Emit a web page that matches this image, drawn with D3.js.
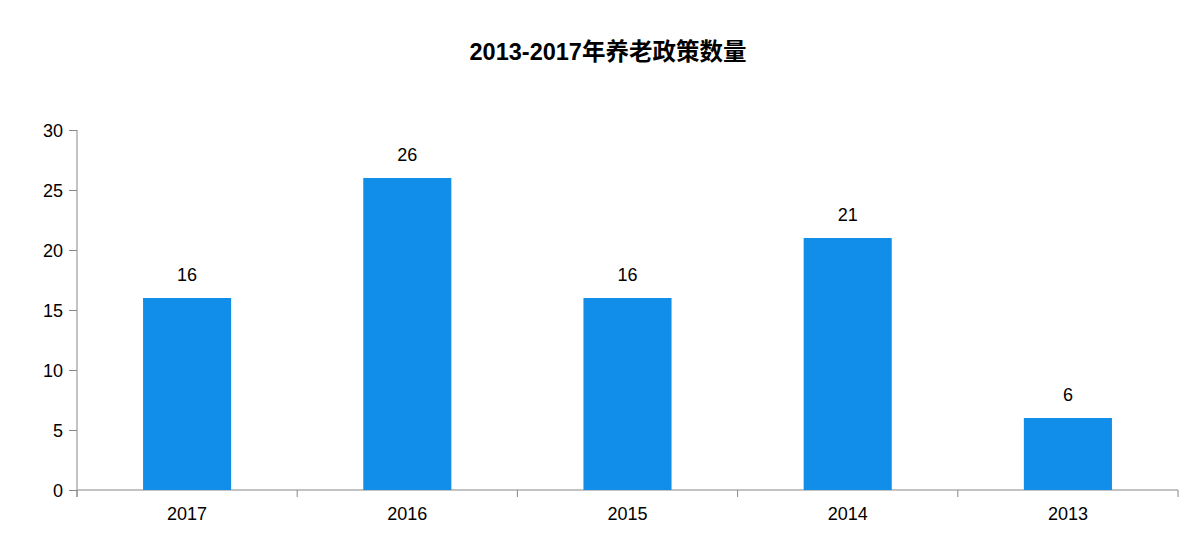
<!DOCTYPE html>
<html><head><meta charset="utf-8">
<script src="https://cdn.jsdelivr.net/npm/d3@7/dist/d3.min.js"></script>
<style>body{margin:0;background:#fff;font-family:"Liberation Sans",Arial,sans-serif;}</style>
</head><body><svg id="c" width="1202" height="546"></svg>
<script>
const categories = ["2017","2016","2015","2014","2013"];
const values = [16,26,16,21,6];
const yTicks = [0,5,10,15,20,25,30];
const title = "2013-2017年养老政策数量";

const svg = d3.select("#c");
const m = {l:77, r:1178, t:130, b:490};
const x = d3.scaleBand().domain(categories).range([m.l, m.r]).paddingInner(0).paddingOuter(0);
const y = d3.scaleLinear().domain([0,30]).range([m.b, m.t]);
const axisColor = "#888";
const fs = "18px";

svg.append("text").attr("x", 608).attr("y", 60).attr("text-anchor","middle")
  .style("font-family",'"Liberation Sans","Noto Sans CJK SC",sans-serif')
  .style("font-weight","bold").style("font-size","23.5px").text(title);

// y axis
const ya = svg.append("g").attr("transform",`translate(${m.l},0)`)
  .call(d3.axisLeft(y).tickValues(yTicks).tickSize(8).tickPadding(6));
ya.select(".domain").remove();
ya.append("line").attr("x1",0).attr("x2",0).attr("y1",m.t).attr("y2",m.b+7).attr("stroke",axisColor);
ya.selectAll(".tick line").attr("stroke",axisColor);
ya.selectAll(".tick text").style("font-size",fs).style("font-family","Liberation Sans, Arial").attr("fill","#000").attr("dy","0.36em");

// x axis
const xa = svg.append("g").attr("transform",`translate(0,${m.b})`)
  .call(d3.axisBottom(x).tickSize(0).tickPadding(17));
xa.select(".domain").remove();
xa.append("line").attr("x1",m.l).attr("x2",m.r).attr("y1",0).attr("y2",0).attr("stroke",axisColor);
const bounds = categories.map(c => x(c) + x.bandwidth()).concat([m.l]);
xa.selectAll(".bt").data(bounds).enter().append("line")
  .attr("x1",d=>d).attr("x2",d=>d).attr("y1",0).attr("y2",7).attr("stroke",axisColor);
xa.selectAll(".tick text").style("font-size",fs).style("font-family","Liberation Sans, Arial").attr("fill","#000");

// bars
const bw = x.bandwidth()*0.4;
svg.selectAll(".bar").data(categories).enter().append("rect")
  .attr("x", (d)=> x(d) + x.bandwidth()/2 - bw/2)
  .attr("y", (d,i)=> y(values[i]))
  .attr("width", bw)
  .attr("height", (d,i)=> m.b - y(values[i]))
  .attr("fill","#108EE9");

svg.selectAll(".lbl").data(categories).enter().append("text")
  .attr("x", d => x(d) + x.bandwidth()/2)
  .attr("y", (d,i)=> y(values[i]) - 17)
  .attr("text-anchor","middle")
  .style("font-size",fs).style("font-family","Liberation Sans, Arial")
  .text((d,i)=>values[i]);
</script></body></html>
